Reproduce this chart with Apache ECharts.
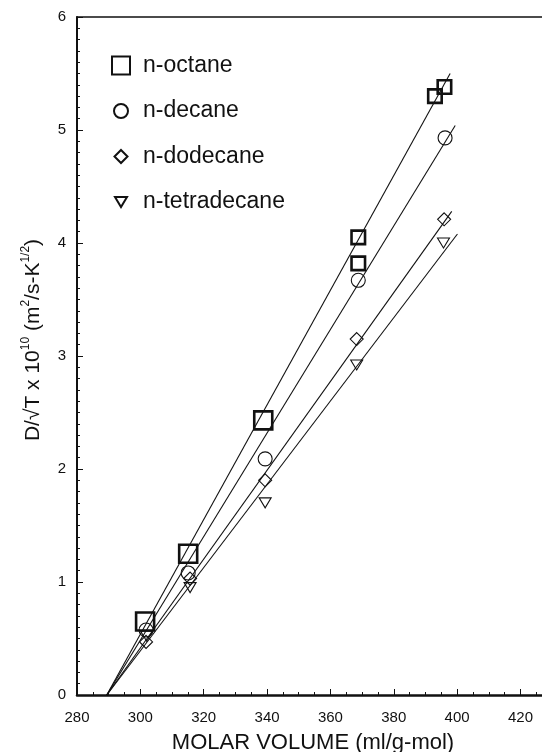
<!DOCTYPE html>
<html>
<head>
<meta charset="utf-8">
<script src="https://cdn.jsdelivr.net/npm/echarts@6/dist/echarts.min.js"></script>
<style>html,body{margin:0;padding:0;background:#fff;overflow:hidden;}#c{width:542px;height:752px;}</style>
</head>
<body>
<div id="c"></div>
<script>
// ---- data ----
const seriesNames = ['n-octane', 'n-decane', 'n-dodecane', 'n-tetradecane'];
const octaneX = [301.5, 315.1, 338.8, 368.8, 368.8, 393.0, 396.0];
const octaneY = [0.65, 1.25, 2.43, 4.05, 3.82, 5.30, 5.38];
const decaneX = [301.8, 315.1, 339.4, 368.8, 396.2];
const decaneY = [0.575, 1.08, 2.09, 3.67, 4.93];
const dodecaneX = [301.8, 315.7, 339.4, 368.3, 395.9];
const dodecaneY = [0.47, 1.03, 1.90, 3.15, 4.21];
const tetradecaneX = [302.0, 315.7, 339.4, 368.3, 395.7];
const tetradecaneY = [0.52, 0.95, 1.70, 2.92, 4.00];
// fitted lines: end points
const lineStartX = [289.4, 289.4, 289.4, 289.4];
const lineStartY = [0, 0, 0, 0];
const lineEndX = [397.8, 399.4, 398.3, 400.1];
const lineEndY = [5.50, 5.04, 4.28, 4.08];
const xTicks = [280, 300, 320, 340, 360, 380, 400, 420];
const yTicks = [0, 1, 2, 3, 4, 5, 6];
const xMin = 280, xMax = 426.8;  // right side of the plot is cut by the picture edge

const FONT = '"Liberation Sans", Arial, Helvetica, sans-serif';
const zip = (xs, ys) => xs.map((x, i) => [x, ys[i]]);

const symbols = [
  'path://M0,0M20,20M1,1L19,1L19,19L1,19Z',
  'path://M0,0M20,20M3,10A7,7,0,1,1,17,10A7,7,0,1,1,3,10Z',
  'path://M0,0M20,20M10,3.5L16.5,10L10,16.5L3.5,10Z',
  'path://M0,0M20,20M4,5L16,5L10,15Z'
];
const borderW = [2.6, 1.1, 1.1, 1.1];
const pts = [zip(octaneX, octaneY), zip(decaneX, decaneY), zip(dodecaneX, dodecaneY), zip(tetradecaneX, tetradecaneY)];

const series = [];
for (let i = 0; i < 4; i++) {
  series.push({
    type: 'line', name: 'fit' + i, silent: true, symbol: 'none',
    data: [[lineStartX[i], lineStartY[i]], [lineEndX[i], lineEndY[i]]],
    lineStyle: { color: '#111', width: 1.1 }, z: 2
  });
}
for (let i = 0; i < 4; i++) {
  series.push({
    type: 'scatter', name: seriesNames[i], data: pts[i],
    symbol: symbols[i],
    symbolSize: i === 0 ? (v, p) => (p.dataIndex >= 3 ? 15 : 20) : 20,
    itemStyle: { color: 'rgba(255,255,255,0)', borderColor: '#111', borderWidth: borderW[i], opacity: 1 },
    z: 3
  });
}

const chart = echarts.init(document.getElementById('c'), null, { renderer: 'canvas' });
chart.setOption({
  animation: false,
  backgroundColor: '#fff',
  textStyle: { fontFamily: FONT, color: '#111' },
  grid: { left: 77, top: 17, bottom: 57, right: 0, containLabel: false, outerBoundsMode: 'none' },
  legend: {
    data: seriesNames, orient: 'vertical', left: 105, top: 49,
    itemWidth: 20, itemHeight: 20, itemGap: 22.5,
    textStyle: { fontFamily: FONT, fontSize: 23, color: '#111', padding: [0, 0, 0, 7] }
  },
  xAxis: [{
    type: 'value', min: xMin, max: xMax, interval: 20,
    name: 'MOLAR VOLUME (ml/g-mol)', nameLocation: 'middle', nameGap: 37,
    nameTextStyle: { fontFamily: FONT, fontSize: 22, color: '#111', padding: [0, 0, 0, 7] },
    axisLine: { show: true, onZero: false, lineStyle: { color: '#111', width: 2.5 } },
    axisTick: { show: true, inside: true, length: 6, lineStyle: { color: '#111', width: 1 } },
    minorTick: { show: true, splitNumber: 4, length: 3, lineStyle: { color: '#111', width: 1 } },
    axisLabel: { fontFamily: FONT, fontSize: 15, color: '#111', margin: 15, showMaxLabel: false,
      formatter: v => xTicks.includes(v) ? String(v) : '' },
    splitLine: { show: false }
  }, {
    type: 'value', position: 'top', min: xMin, max: xMax,
    axisLine: { show: true, onZero: false, lineStyle: { color: '#111', width: 1.6 } },
    axisTick: { show: false }, axisLabel: { show: false }, splitLine: { show: false }
  }],
  yAxis: {
    type: 'value', min: 0, max: 6, interval: 1,
    name: '{a|D/√T x 10}{s|10}{a| (m}{s|2}{a|/s-K}{s|1/2}{a|)}',
    nameLocation: 'middle', nameGap: 33, nameRotate: 90,
    nameTextStyle: {
      fontFamily: FONT, color: '#111', padding: [0, 0, 0, 32],
      rich: {
        a: { fontFamily: FONT, fontSize: 21, color: '#111', verticalAlign: 'bottom', lineHeight: 24 },
        s: { fontFamily: FONT, fontSize: 12, color: '#111', verticalAlign: 'top', lineHeight: 24, padding: [0, 0, 10, 0] }
      }
    },
    axisLine: { show: true, onZero: false, lineStyle: { color: '#111', width: 2 } },
    axisTick: { show: true, inside: true, length: 6, lineStyle: { color: '#111', width: 1 } },
    minorTick: { show: true, splitNumber: 10, length: 3, lineStyle: { color: '#111', width: 1 } },
    axisLabel: { fontFamily: FONT, fontSize: 15, color: '#111', margin: 11,
      formatter: v => yTicks.includes(v) ? String(v) : '' },
    splitLine: { show: false }
  },
  series: series
});
</script>
</body>
</html>
